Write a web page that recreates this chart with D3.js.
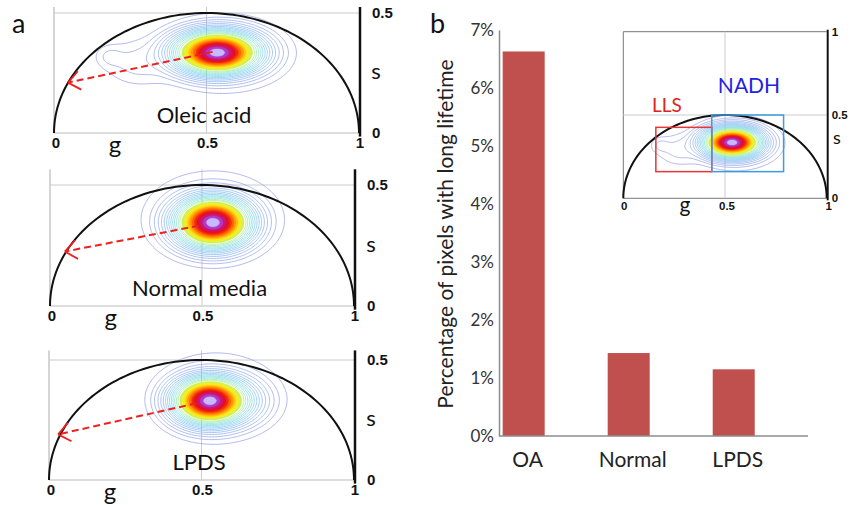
<!DOCTYPE html>
<html>
<head>
<meta charset="utf-8">
<script src="https://cdn.jsdelivr.net/npm/d3@7"></script>
<style>
  body { margin: 0; background: #fff; }
  svg { display: block; }
</style>
</head>
<body>
<svg id="chart" width="852" height="505"></svg>
<script>
// ---- data ----
const gTicks = [0, 0.5, 1];
const sTicks = [0, 0.5];
const insetSTicks = [0, 0.5, 1];
const panelLabels = ["Oleic acid", "Normal media", "LPDS"];

// phasor clusters: [g, s, sigma g, sigma s, weight]
const oaClusters = [
  [0.535, 0.335, 0.068, 0.043, 1],
  [0.56, 0.33, 0.13, 0.095, 0.012],
  [0.27, 0.29, 0.07, 0.06, 0.007],
  [0.18, 0.32, 0.03, 0.03, 0.005]
];
const normalClusters = [
  [0.536, 0.345, 0.06, 0.05, 1],
  [0.535, 0.365, 0.135, 0.115, 0.012]
];
const lpdsClusters = [
  [0.525, 0.33, 0.057, 0.047, 1],
  [0.60, 0.33, 0.06, 0.05, 0.08],
  [0.55, 0.345, 0.126, 0.111, 0.012]
];

// dashed arrows from cluster to the long lifetime end (g, s)
const arrowStarts = [[0.52, 0.338], [0.49, 0.332], [0.484, 0.32]];
const arrowEnds = [[0.046, 0.21], [0.049, 0.225], [0.03, 0.19]];

// inset boxes [g0, g1, s0, s1]
const llsBox = [0.16, 0.435, 0.16, 0.426];
const nadhBox = [0.435, 0.788, 0.16, 0.5];

// bar chart
const barCategories = ["OA", "Normal", "LPDS"];
const barValues = [6.63, 1.43, 1.15];
const barTicks = [0, 1, 2, 3, 4, 5, 6, 7];

// contour levels (fraction of peak) and their colours
const contourLevels = [0.003, 0.006, 0.01, 0.016, 0.024, 0.034, 0.046, 0.06, 0.076, 0.095, 0.115, 0.14, 0.17,
  0.2, 0.24, 0.28, 0.33, 0.39, 0.45, 0.52, 0.6, 0.68, 0.77, 0.86, 0.94];
const contourColors = ["#8f98e6", "#8f9ce8", "#8aa0ea", "#86a6ec", "#82acee", "#7eb2ee", "#7ab8ee", "#76c0ee",
  "#74c8ec", "#72d0e8", "#74d8de", "#7cdec8", "#8ee4a8", "#a8ea80", "#c8f05a", "#e6f23a", "#fbe91c", "#ffc40e",
  "#ff9808", "#ff6404", "#f52a08", "#e0102a", "#cc1470", "#b03ac8", "#c8b8ff"];
const fillFrom = 14;

const svg = d3.select("#chart");
const textFont = "Lato, 'Open Sans', sans-serif";
const tickFont = "'Liberation Sans', Arial, sans-serif";

function drawContours(g, clusters, gx, sy) {
  const nx = 200, ny = 120, sMax = 0.6;
  const values = new Array(nx * ny);
  for (let j = 0; j < ny; j++) {
    for (let i = 0; i < nx; i++) {
      const gv = (i + 0.5) / nx, sv = (j + 0.5) / ny * sMax;
      let v = 0;
      clusters.forEach(c => {
        const dg = (gv - c[0]) / c[2], ds = (sv - c[1]) / c[3];
        v += c[4] * Math.exp(-0.5 * (dg * dg + ds * ds));
      });
      values[j * nx + i] = v;
    }
  }
  const vmax = d3.max(values);
  const contours = d3.contours().size([nx, ny]).thresholds(contourLevels.map(l => l * vmax))(values);
  const proj = d3.geoTransform({
    point: function(x, y) { this.stream.point(gx(x / nx), sy(y / ny * sMax)); }
  });
  const path = d3.geoPath(proj);
  g.append("g").selectAll("path")
    .data(contours)
    .join("path")
    .attr("d", path)
    .attr("fill", (d, i) => i >= fillFrom ? contourColors[i] : "none")
    .attr("stroke", (d, i) => contourColors[i])
    .attr("stroke-width", (d, i) => i >= fillFrom ? 0.4 : 0.7);
}

function drawSemicircle(g, gx, sy) {
  const pts = d3.range(0, 181, 2).map(a => {
    const t = a * Math.PI / 180;
    return [0.5 - 0.5 * Math.cos(t), 0.5 * Math.sin(t)];
  });
  g.append("path")
    .attr("d", d3.line().x(d => gx(d[0])).y(d => sy(d[1]))(pts))
    .attr("fill", "none")
    .attr("stroke", "#111")
    .attr("stroke-width", 2);
}

function drawArrow(g, gx, sy, start, end) {
  const x1 = gx(start[0]), y1 = sy(start[1]), x2 = gx(end[0]), y2 = sy(end[1]);
  g.append("line")
    .attr("x1", x1).attr("y1", y1).attr("x2", x2).attr("y2", y2)
    .attr("stroke", "#ee2020").attr("stroke-width", 2)
    .attr("stroke-dasharray", "7,4");
  const ang = Math.atan2(y1 - y2, x1 - x2);
  [-0.65, 0.7].forEach(da => {
    g.append("line")
      .attr("x1", x2).attr("y1", y2)
      .attr("x2", x2 + 15 * Math.cos(ang + da)).attr("y2", y2 + 15 * Math.sin(ang + da))
      .attr("stroke", "#ee2020").attr("stroke-width", 1.8);
  });
}

// ---- panel a: three phasor plots ----
const frames = [
  { x0: 54, x1: 359, base: 133, half: 120, top: 0.525 },
  { x0: 50, x1: 354, base: 306, half: 121, top: 0.565 },
  { x0: 49, x1: 354, base: 480, half: 120, top: 0.54 }
];
const panelClusters = [oaClusters, normalClusters, lpdsClusters];

frames.forEach((f, k) => {
  const gx = d3.scaleLinear([0, 1], [f.x0, f.x1]);
  const sy = d3.scaleLinear([0, 0.5], [f.base, f.base - f.half]);
  const g = svg.append("g");

  // frame and grid
  g.append("line").attr("x1", gx(0)).attr("x2", gx(0)).attr("y1", sy(0)).attr("y2", sy(f.top))
    .attr("stroke", "#aaa").attr("stroke-width", 1);
  g.append("line").attr("x1", gx(0)).attr("x2", gx(1)).attr("y1", sy(0)).attr("y2", sy(0))
    .attr("stroke", "#bbb").attr("stroke-width", 1);
  g.append("line").attr("x1", gx(0)).attr("x2", gx(1)).attr("y1", sy(0.5)).attr("y2", sy(0.5))
    .attr("stroke", "#ccc").attr("stroke-width", 1);
  g.append("line").attr("x1", gx(0.5)).attr("x2", gx(0.5)).attr("y1", sy(0)).attr("y2", sy(f.top))
    .attr("stroke", "#ccc").attr("stroke-width", 1);

  drawContours(g, panelClusters[k], gx, sy);
  drawSemicircle(g, gx, sy);

  g.append("line").attr("x1", gx(1) + 1).attr("x2", gx(1) + 1).attr("y1", sy(-0.015)).attr("y2", sy(f.top))
    .attr("stroke", "#111").attr("stroke-width", 2.5);

  drawArrow(g, gx, sy, arrowStarts[k], arrowEnds[k]);

  // tick labels
  g.selectAll(".gt").data(gTicks).join("text")
    .attr("x", d => gx(d) + (d === 0 ? 2 : 1)).attr("y", sy(0) + 15)
    .attr("text-anchor", "middle")
    .attr("font-family", tickFont).attr("font-weight", "bold").attr("font-size", 15)
    .attr("fill", "#111")
    .text(d => d);
  g.selectAll(".st").data(sTicks).join("text")
    .attr("x", gx(1) + 13).attr("y", d => sy(d) + 5)
    .attr("font-family", tickFont).attr("font-weight", "bold").attr("font-size", 15)
    .attr("fill", "#111")
    .text(d => d);

  g.append("text").attr("x", gx(0.2)).attr("y", sy(0) + 20)
    .attr("text-anchor", "middle").attr("font-family", textFont).attr("font-size", 24)
    .attr("fill", "#111").text("g");
  g.append("text").attr("x", gx(1) + 17).attr("y", sy(0.25) + 6)
    .attr("text-anchor", "middle").attr("font-family", textFont).attr("font-size", 22)
    .attr("fill", "#111").text("s");
  g.append("text").attr("x", gx(0.492)).attr("y", sy(0) - 10)
    .attr("text-anchor", "middle").attr("font-family", textFont).attr("font-size", 22)
    .attr("fill", "#111").text(panelLabels[k]);
});

svg.append("text").attr("x", 12).attr("y", 33)
  .attr("font-family", textFont).attr("font-size", 27).attr("fill", "#111").text("a");

// ---- panel b: bar chart ----
svg.append("text").attr("x", 430).attr("y", 33)
  .attr("font-family", textFont).attr("font-size", 27).attr("fill", "#111").text("b");

const y = d3.scaleLinear([0, 7], [436, 30]);
const x = d3.scaleBand(barCategories, [499, 758.4]).paddingInner(0.6).paddingOuter(0.035);

svg.append("g").selectAll("rect")
  .data(barValues)
  .join("rect")
  .attr("x", (d, i) => x(barCategories[i]))
  .attr("y", d => y(d))
  .attr("width", x.bandwidth())
  .attr("height", d => y(0) - y(d))
  .attr("fill", "#c0504d");

const yAxis = svg.append("g").attr("transform", "translate(499,0)")
  .call(d3.axisLeft(y).tickValues(barTicks).tickSize(0).tickPadding(5).tickFormat(d => d + "%"));
yAxis.select(".domain").attr("stroke", "#8c8c8c").attr("stroke-width", 1.5);
yAxis.selectAll("text").attr("font-family", textFont).attr("font-size", 17).attr("fill", "#333");

svg.append("line").attr("x1", 499).attr("x2", 808).attr("y1", y(0)).attr("y2", y(0))
  .attr("stroke", "#8c8c8c").attr("stroke-width", 1.5);

const xAxis = svg.append("g").attr("transform", "translate(4," + y(0) + ")")
  .call(d3.axisBottom(x).tickSize(0).tickPadding(16));
xAxis.select(".domain").remove();
xAxis.selectAll("text").attr("font-family", textFont).attr("font-size", 21).attr("fill", "#222");

svg.append("text")
  .attr("transform", "translate(453,234) rotate(-90)")
  .attr("text-anchor", "middle")
  .attr("font-family", textFont).attr("font-size", 21).attr("fill", "#222")
  .text("Percentage of pixels with long lifetime");

// ---- inset phasor plot ----
const ix = d3.scaleLinear([0, 1], [623.3, 826.7]);
const iy = d3.scaleLinear([0, 1], [198.3, 31.7]);
const inset = svg.append("g");

inset.append("line").attr("x1", ix(0)).attr("x2", ix(0)).attr("y1", iy(0)).attr("y2", iy(1))
  .attr("stroke", "#777").attr("stroke-width", 1);
inset.append("line").attr("x1", ix(0)).attr("x2", ix(1)).attr("y1", iy(1)).attr("y2", iy(1))
  .attr("stroke", "#777").attr("stroke-width", 1);
inset.append("line").attr("x1", ix(0)).attr("x2", ix(1)).attr("y1", iy(0)).attr("y2", iy(0))
  .attr("stroke", "#777").attr("stroke-width", 1);
inset.append("line").attr("x1", ix(0)).attr("x2", ix(1)).attr("y1", iy(0.5)).attr("y2", iy(0.5))
  .attr("stroke", "#ccc").attr("stroke-width", 1);
inset.append("line").attr("x1", ix(0.5)).attr("x2", ix(0.5)).attr("y1", iy(0)).attr("y2", iy(1))
  .attr("stroke", "#ccc").attr("stroke-width", 1);

drawContours(inset, oaClusters, ix, iy);
drawSemicircle(inset, ix, iy);

inset.append("line").attr("x1", ix(1) + 1).attr("x2", ix(1) + 1).attr("y1", iy(-0.012)).attr("y2", iy(1.012))
  .attr("stroke", "#111").attr("stroke-width", 2);

inset.append("rect")
  .attr("x", ix(llsBox[0])).attr("y", iy(llsBox[3]))
  .attr("width", ix(llsBox[1]) - ix(llsBox[0])).attr("height", iy(llsBox[2]) - iy(llsBox[3]))
  .attr("fill", "none").attr("stroke", "#e8343a").attr("stroke-width", 1.5);
inset.append("rect")
  .attr("x", ix(nadhBox[0])).attr("y", iy(nadhBox[3]))
  .attr("width", ix(nadhBox[1]) - ix(nadhBox[0])).attr("height", iy(nadhBox[2]) - iy(nadhBox[3]))
  .attr("fill", "none").attr("stroke", "#3d9be0").attr("stroke-width", 1.5);

inset.append("text").attr("x", 667).attr("y", 112).attr("text-anchor", "middle")
  .attr("font-family", textFont).attr("font-size", 19).attr("fill", "#e02020").text("LLS");
inset.append("text").attr("x", 749).attr("y", 93).attr("text-anchor", "middle")
  .attr("font-family", textFont).attr("font-size", 21).attr("fill", "#2222e0").text("NADH");

inset.selectAll(".igt").data(gTicks).join("text")
  .attr("x", d => ix(d) + (d === 0 ? 1 : 2)).attr("y", iy(0) + 12)
  .attr("text-anchor", "middle")
  .attr("font-family", tickFont).attr("font-weight", "bold").attr("font-size", 11.5)
  .attr("fill", "#111").text(d => d);
inset.selectAll(".ist").data(insetSTicks).join("text")
  .attr("x", ix(1) + 5).attr("y", d => iy(d) + 4)
  .attr("font-family", tickFont).attr("font-weight", "bold").attr("font-size", 11.5)
  .attr("fill", "#111").text(d => d);
inset.append("text").attr("x", 685).attr("y", 212).attr("text-anchor", "middle")
  .attr("font-family", textFont).attr("font-size", 21).attr("fill", "#111").text("g");
inset.append("text").attr("x", 837).attr("y", 144).attr("text-anchor", "middle")
  .attr("font-family", textFont).attr("font-size", 18).attr("fill", "#111").text("s");
</script>
</body>
</html>
